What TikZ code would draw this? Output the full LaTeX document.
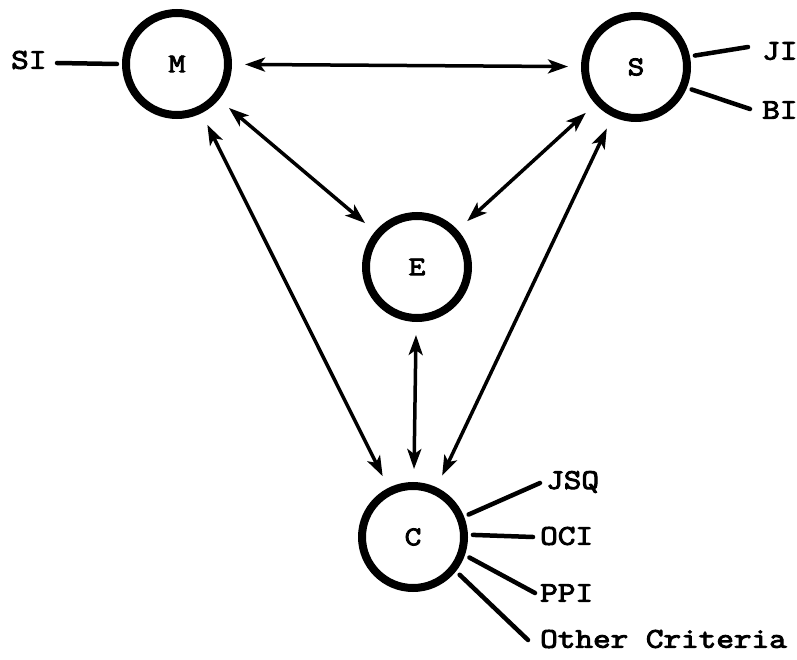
\documentclass[tikz,border=0pt]{standalone}
\usepackage{fontspec}
\setmonofont[FakeBold=3.5,FakeStretch=1.2]{Latin Modern Mono}
\usetikzlibrary{arrows.meta}
\begin{document}
\begin{tikzpicture}[x=1pt,y=-1pt,
  ring/.style={circle,draw,line width=8pt,minimum size=102pt,inner sep=0pt,
    outer sep=9pt,font=\ttfamily\fontsize{27}{29}\selectfont},
  lbl/.style={anchor=west,inner sep=0pt,font=\ttfamily\fontsize{28.5}{30}\selectfont},
  tip/.style={Stealth[length=20pt,width=14pt,inset=5pt]},
  link/.style={line width=3.5pt,{Stealth[length=20pt,width=14pt,inset=5pt]}-{Stealth[length=20pt,width=14pt,inset=5pt]},
    shorten <=8pt,shorten >=8pt},
  tie/.style={line width=4.5pt,line cap=round}]
\useasboundingbox (0,0) rectangle (797,660);

% the four factors
\node[ring] (M) at (177,64) {M};
\node[ring] (S) at (636,67) {S};
\node[ring] (E) at (417,267) {E};
\node[ring] (C) at (413,537) {C};

% mutual influences
\draw[link] (M) -- (S);
\draw[link] (M) -- (E);
\draw[link] (S) -- (E);
\draw[link] (M) -- (C);
\draw[link] (S) -- (C);
\draw[link] (E) -- (C);

% indicators attached to each factor
\node[lbl] (si) at (11,60) {SI};
\coordinate (siEnd) at (57,63);
\draw[tie] (M.180) -- (siEnd);

\node[lbl] (ji) at (762,51) {JI};
\coordinate (jiEnd) at (748,47);
\draw[tie] (S.11) -- (jiEnd);

\node[lbl] (bi) at (762,110) {BI};
\coordinate (biEnd) at (750,109);
\draw[tie] (S.-22) -- (biEnd);

\node[lbl] (jsq) at (546,482) {JSQ};
\coordinate (jsqEnd) at (540,483);
\draw[tie] (C.22) -- (jsqEnd);

\node[lbl] (oci) at (540,536) {OCI};
\coordinate (ociEnd) at (533,537);
\draw[tie] (C.2) -- (ociEnd);

\node[lbl] (ppi) at (540,593) {PPI};
\coordinate (ppiEnd) at (535,593);
\draw[tie] (C.-20) -- (ppiEnd);

\node[lbl] (oth) at (540,639) {Other Criteria};
\coordinate (othEnd) at (528,640);
\draw[tie] (C.-39) -- (othEnd);
\end{tikzpicture}
\end{document}
